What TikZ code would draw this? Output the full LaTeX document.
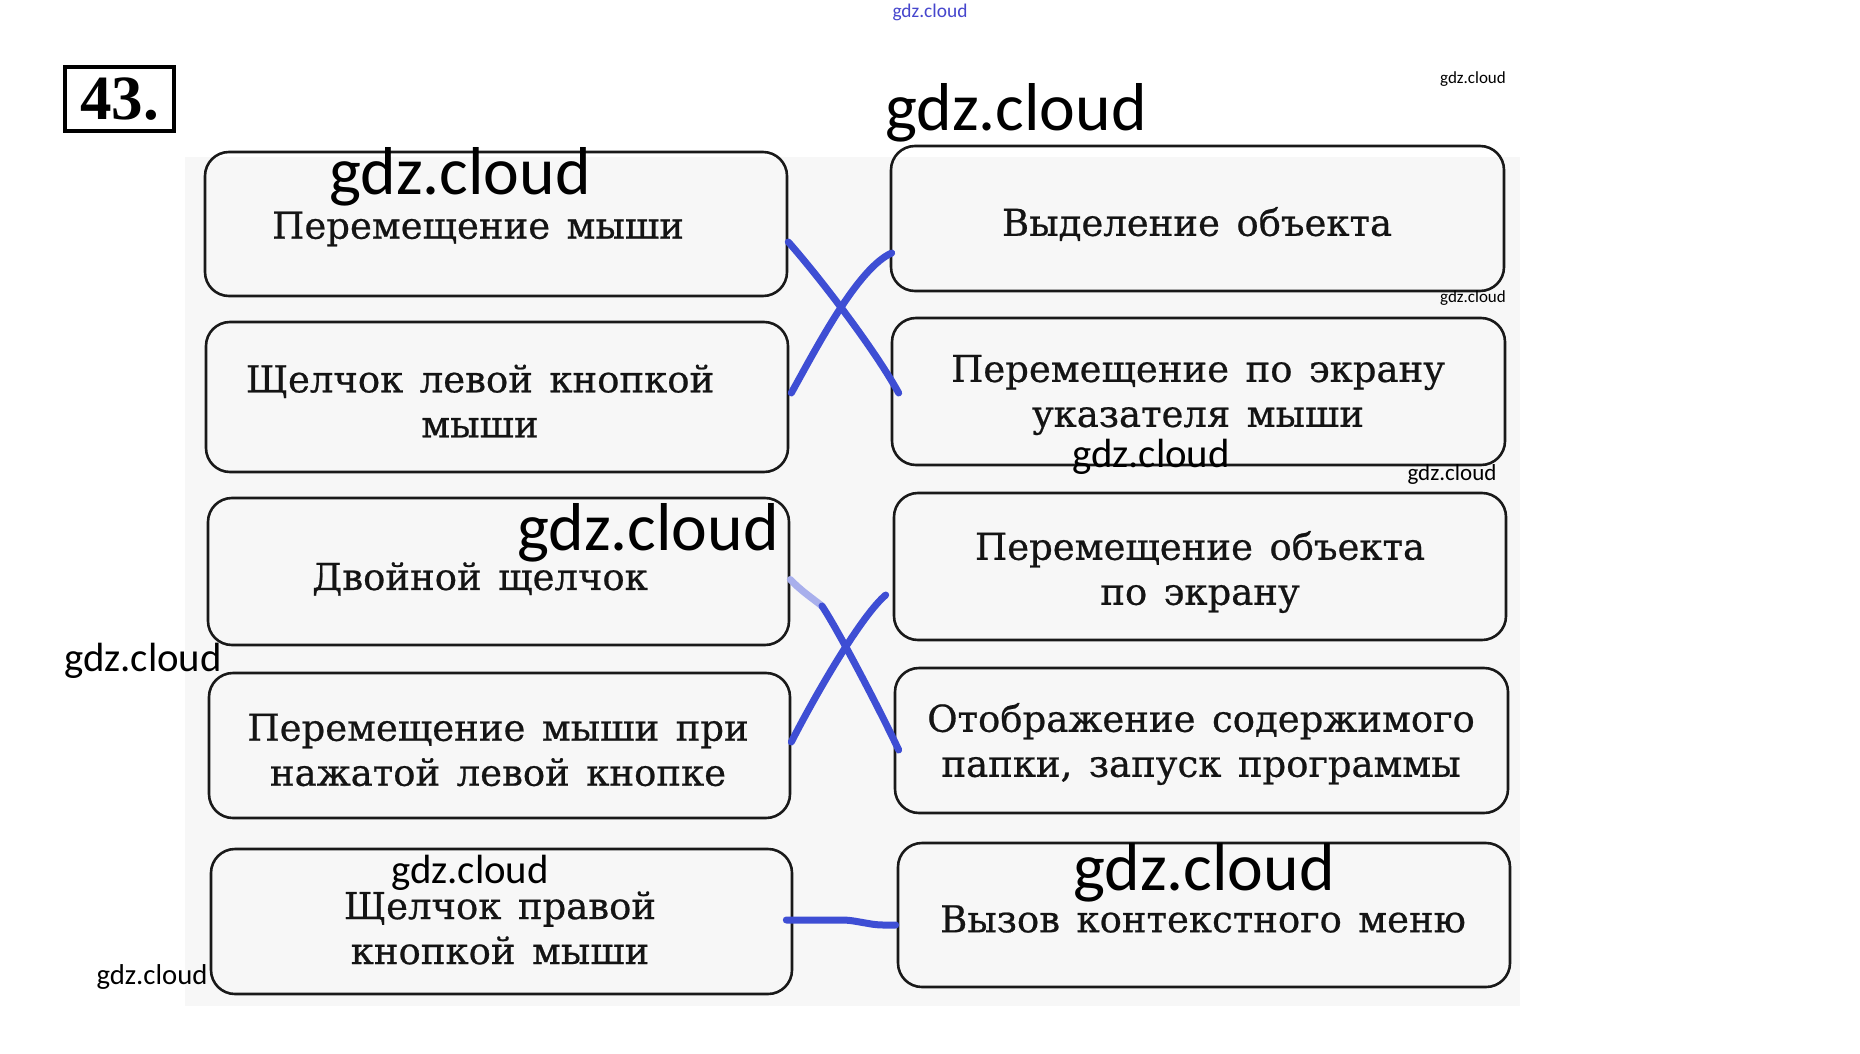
\documentclass[tikz,border=0pt]{standalone}
\usepackage{fontspec}
\setmainfont{DejaVu Serif}
\newfontfamily\boxfont{DejaVu Serif}[FakeBold=0.6, WordSpace=1.4]
\newfontfamily\wmfont{Carlito}
\newfontfamily\numfont{Liberation Serif}
\definecolor{pagegray}{RGB}{247,247,247}
\definecolor{connblue}{RGB}{62,78,212}
\definecolor{wmblue}{RGB}{70,70,205}
\begin{document}
\begin{tikzpicture}[x=1pt,y=-1pt,
  box/.style={draw=black!90, line width=2.6pt, rounded corners=24pt, inner sep=0pt},
  txt/.style={font=\boxfont\fontsize{37}{45}\selectfont, align=center, inner sep=0pt, text=black!92},
  conn/.style={draw=connblue, line width=7pt, line cap=round, line join=round},
  wm/.style={font=\wmfont, inner sep=0pt, text=black}]
\useasboundingbox (0,0) rectangle (1860,1054);
\fill[white] (0,0) rectangle (1860,1054);
\fill[pagegray] (185,157) rectangle (1520,1006);

% number box
\node[draw=black, line width=3.5pt, minimum width=109pt, minimum height=64pt, inner sep=0pt,
      font=\numfont\bfseries\fontsize{63}{63}\selectfont] (num) at (119.5,99) {43.};

% left boxes
\node[box, minimum width=582pt, minimum height=144pt] (l1) at (496,224) {};
\node[box, minimum width=582pt, minimum height=150pt] (l2) at (497,397) {};
\node[box, minimum width=581pt, minimum height=147pt] (l3) at (498.5,571.5) {};
\node[box, minimum width=581pt, minimum height=145pt] (l4) at (499.5,745.5) {};
\node[box, minimum width=581pt, minimum height=145pt] (l5) at (501.5,921.5) {};
% right boxes
\node[box, minimum width=613pt, minimum height=145pt] (r1) at (1197.5,218.5) {};
\node[box, minimum width=613pt, minimum height=147pt] (r2) at (1198.5,391.5) {};
\node[box, minimum width=612pt, minimum height=147pt] (r3) at (1200,566.5) {};
\node[box, minimum width=613pt, minimum height=145pt] (r4) at (1201.5,740.5) {};
\node[box, minimum width=612pt, minimum height=144pt] (r5) at (1204,915) {};

% texts
\node[txt] (tl1) at (478,229) {Перемещение мыши};
\node[txt] (tl2) at (480,401) {Щелчок левой кнопкой\\мыши};
\node[txt] (tl3) at (480,579) {Двойной щелчок};
\node[txt] (tl4) at (498,750) {Перемещение мыши при\\нажатой левой кнопке};
\node[txt] (tl5) at (500,928) {Щелчок правой\\кнопкой мыши};
\node[txt] (tr1) at (1197,224) {Выделение объекта};
\node[txt] (tr2) at (1198,395) {Перемещение по экрану\\указателя мыши};
\node[txt] (tr3) at (1200,572) {Перемещение объекта\\по экрану};
\node[txt] (tr4) at (1201,744) {Отображение содержимого\\папки, запуск программы};
\node[txt] (tr5) at (1203,919) {Вызов контекстного меню};

% connectors
\draw[conn] ([yshift=-18pt]l1.east) .. controls (815,272) and (872,345) .. ([xshift=8pt,yshift=-1.5pt]r2.west);
\draw[conn] ([xshift=2pt,yshift=4pt]l2.east) .. controls (818,345) and (858,268) .. ([xshift=2pt,yshift=-34.5pt]r1.west);
\draw[conn, draw=connblue!45] ([yshift=-8pt]l3.east) .. controls (800,590) and (812,598) .. (822,606);
\draw[conn] (822,606) .. controls (835,625) and (875,700) .. ([xshift=5pt,yshift=-9.5pt]r4.west);
\draw[conn] ([yshift=3.5pt]l4.east) .. controls (818,690) and (862,615) .. ([xshift=-7pt,yshift=-28.5pt]r3.west);
\draw[conn, rounded corners=6pt] ([xshift=-7pt,yshift=1.5pt]l5.east) -- (848,920) -- (877,925) -- ([xshift=-1pt,yshift=-10pt]r5.west);

% watermarks
\node[wm, text=wmblue, font=\wmfont\fontsize{19.4}{20}\selectfont] (w0) at (930,12) {gdz.cloud};
\node[wm, font=\wmfont\fontsize{67.7}{68}\selectfont] (w1) at (1016,113) {gdz.cloud};
\node[wm, font=\wmfont\fontsize{67.7}{68}\selectfont] (w2) at (460,177) {gdz.cloud};
\node[wm, font=\wmfont\fontsize{67.7}{68}\selectfont] (w3) at (648,533) {gdz.cloud};
\node[wm, font=\wmfont\fontsize{67.7}{68}\selectfont] (w4) at (1204,873) {gdz.cloud};
\node[wm, font=\wmfont\fontsize{40.8}{41}\selectfont] (w5) at (143,661) {gdz.cloud};
\node[wm, font=\wmfont\fontsize{40.8}{41}\selectfont] (w6) at (1151,457) {gdz.cloud};
\node[wm, font=\wmfont\fontsize{40.8}{41}\selectfont] (w7) at (470,873) {gdz.cloud};
\node[wm, font=\wmfont\fontsize{28.7}{29}\selectfont] (w8) at (152,977) {gdz.cloud};
\node[wm, font=\wmfont\fontsize{23}{23}\selectfont] (w9) at (1452,474) {gdz.cloud};
\node[wm, font=\wmfont\fontsize{17}{17}\selectfont] (w10) at (1473,79) {gdz.cloud};
\node[wm, font=\wmfont\fontsize{17}{17}\selectfont] (w11) at (1473,298) {gdz.cloud};
\end{tikzpicture}
\end{document}
